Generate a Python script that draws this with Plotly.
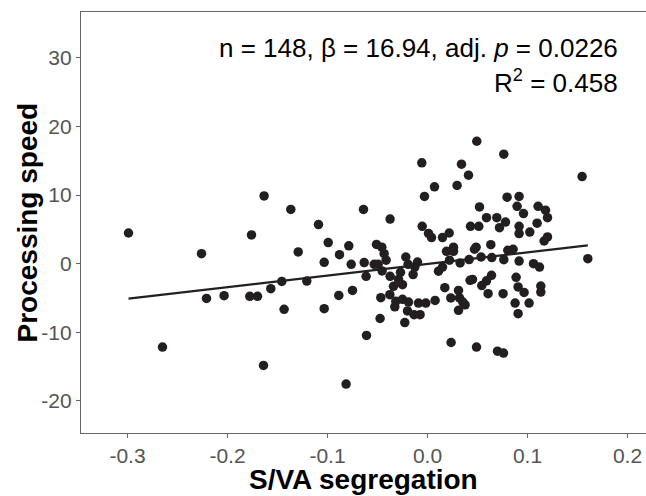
import plotly.graph_objects as go

# S/VA segregation vs processing speed
seg = [
    -0.299, -0.226, -0.176, -0.1634, -0.0057, 0.034, 0.041, 0.007, 0.0296, -0.003,
    -0.1367, -0.064, -0.109, -0.0374, -0.0053, 0.043, 0.001, 0.004, 0.015, 0.0217,
    -0.1293, -0.0993, -0.0787, -0.088, -0.1033, -0.0763, -0.0633, -0.051, -0.0457, -0.0434,
    -0.0414, -0.0533, -0.0494, -0.0217, -0.0194, -0.01, -0.0127, -0.0454, -0.027, -0.0144,
    -0.0614, -0.0374, -0.029, 0.011, 0.015, 0.019, 0.026, 0.026, 0.022, 0.0326,
    0.0416, -0.1457, -0.1207, 0.0493, 0.0763, 0.1546, 0.0796, 0.0916, 0.052, 0.0896,
    0.096, 0.1106, 0.118, 0.12, 0.059, 0.0693, 0.078, 0.072, 0.0513, 0.0916,
    0.0916, 0.1023, 0.1096, 0.1166, 0.12, 0.0486, 0.047, 0.0633, 0.0803, 0.0856,
    0.0763, 0.0916, 0.0536, 0.0643, 0.106, 0.112, 0.1603, 0.045, 0.0543, 0.059,
    0.064, 0.0886, -0.221, -0.2034, -0.1777, -0.17, -0.1567, -0.265, -0.164, -0.1434,
    -0.1033, -0.0887, -0.075, -0.025, -0.034, -0.0467, -0.0377, -0.0317, -0.0327, -0.025,
    -0.019, -0.009, -0.0017, 0.0076, -0.02, -0.0134, -0.0074, -0.0474, -0.0227, -0.061,
    -0.0814, 0.0236, 0.0173, 0.0233, 0.031, 0.032, 0.0353, 0.0376, 0.031, 0.0426,
    0.0606, 0.0756, 0.0906, 0.0966, 0.0876, 0.1016, 0.0906, 0.1133, 0.1133, 0.049,
    0.07, 0.076,
]
speed = [
    4.47, 1.46, 4.18, 9.87, 14.7, 14.5, 12.9, 11.2, 11.4, 9.8,
    7.9, 7.9, 5.7, 6.5, 5.45, 5.45, 4.4, 3.8, 3.8, 4.47,
    1.7, 3.07, 2.6, 1.3, 0.2, -0.1, 0.15, 2.8, 2.4, 1.46,
    0.5, -0.1, -0.1, 0.97, -0.1, 0.23, -0.5, -1.07, -1.27, -1.6,
    -1.85, -1.85, -2.3, -1.1, -0.5, 1.8, 2.4, 1.8, 0.5, 0.1,
    0.6, -2.6, -2.54, 17.85, 15.96, 12.7, 9.7, 9.8, 8.27, 8.36,
    7.3, 8.36, 7.8, 6.7, 6.7, 6.7, 6.07, 5.25, 5.45, 5.45,
    4.38, 4.6, 5.9, 3.3, 3.9, 2.4, 2.1, 2.77, 1.94, 2.1,
    0.58, 0.38, 0.97, 0.88, 0.0, -0.5, 0.73, -2.3, -3.2, -2.5,
    -1.7, -2.0, -5.07, -4.67, -4.77, -4.77, -3.65, -12.17, -14.85, -6.67,
    -6.57, -4.63, -3.9, -3.07, -3.3, -4.96, -4.53, -5.5, -6.3, -5.2,
    -5.6, -5.75, -5.75, -5.36, -6.9, -7.45, -7.45, -8.0, -8.6, -10.47,
    -17.57, -11.5, -3.5, -5.0, -3.9, -5.0, -5.6, -6.0, -6.8, -2.44,
    -4.38, -4.38, -3.4, -4.2, -5.75, -5.75, -7.3, -3.27, -4.15, -12.17,
    -12.76, -13.05,
]

# fitted line
beta = 16.94
intercept = -0.04
fit_x = [min(seg), max(seg)]
fit_y = [intercept + beta * v for v in fit_x]

x_ticks = [-0.3, -0.2, -0.1, 0.0, 0.1, 0.2]
x_labels = ["-0.3", "-0.2", "-0.1", "0.0", "0.1", "0.2"]
y_ticks = [-20, -10, 0, 10, 20, 30]
y_labels = ["-20", "-10", "0", "10", "20", "30"]

dark = "#231f20"
axis_grey = "#666666"
tick_grey = "#555555"
font = "Liberation Sans, Arial, Helvetica, sans-serif"

fig = go.Figure()
fig.add_trace(go.Scatter(
    x=seg, y=speed, mode="markers",
    marker=dict(size=9.5, color=dark, line=dict(width=0)),
    showlegend=False,
))
fig.add_trace(go.Scatter(
    x=fit_x, y=fit_y, mode="lines",
    line=dict(color=dark, width=2.2),
    showlegend=False,
))

# stats text, top right (plot area is 569 px wide)
fig.add_annotation(
    xref="paper", yref="paper", x=0.947, y=0.914,
    xanchor="right", yanchor="middle", showarrow=False,
    text="n = 148, β = 16.94, adj. <i>p</i> = 0.0226",
    font=dict(family=font, size=26, color="black"),
)
fig.add_annotation(
    xref="paper", yref="paper", x=0.947, y=0.834,
    xanchor="right", yanchor="middle", showarrow=False,
    text="R<sup>2</sup> = 0.458",
    font=dict(family=font, size=26, color="black"),
)

# axis titles as annotations so the margins stay fixed
fig.add_annotation(
    xref="paper", yref="paper", x=0.4965, y=0, yshift=-46,
    xanchor="center", yanchor="middle", showarrow=False,
    text="<b>S/VA segregation</b>",
    font=dict(family=font, size=28, color="black"),
)
fig.add_annotation(
    xref="paper", yref="paper", x=0, y=0.5, xshift=-54,
    xanchor="center", yanchor="middle", showarrow=False, textangle=-90,
    text="<b>Processing speed</b>",
    font=dict(family=font, size=28, color="black"),
)

# figure a bit wider than the window so the right panel edge falls outside it
fig.update_layout(
    width=650, height=496,
    margin=dict(l=81, r=0, t=12, b=63),
    plot_bgcolor="white", paper_bgcolor="white",
    font=dict(family=font),
)
fig.update_xaxes(
    range=[-0.3465, 0.2225], automargin=False,
    tickvals=x_ticks, ticktext=x_labels,
    showgrid=False, zeroline=False,
    showline=True, linecolor=axis_grey, linewidth=1.3, mirror=True,
    ticks="outside", ticklen=4, tickcolor=axis_grey,
    tickfont=dict(family=font, size=21, color=tick_grey),
)
fig.update_yaxes(
    range=[-24.7, 36.7], automargin=False,
    tickvals=y_ticks, ticktext=y_labels,
    showgrid=False, zeroline=False,
    showline=True, linecolor=axis_grey, linewidth=1.3,
    ticks="outside", ticklen=4, tickcolor=axis_grey,
    tickfont=dict(family=font, size=21, color=tick_grey),
)

# drop the default page margin so the figure sits at the window's corner
fig.write_html(
    "out.html",
    config={"displayModeBar": False},
    post_script="document.body.style.margin='0';document.body.style.overflow='hidden';",
)
